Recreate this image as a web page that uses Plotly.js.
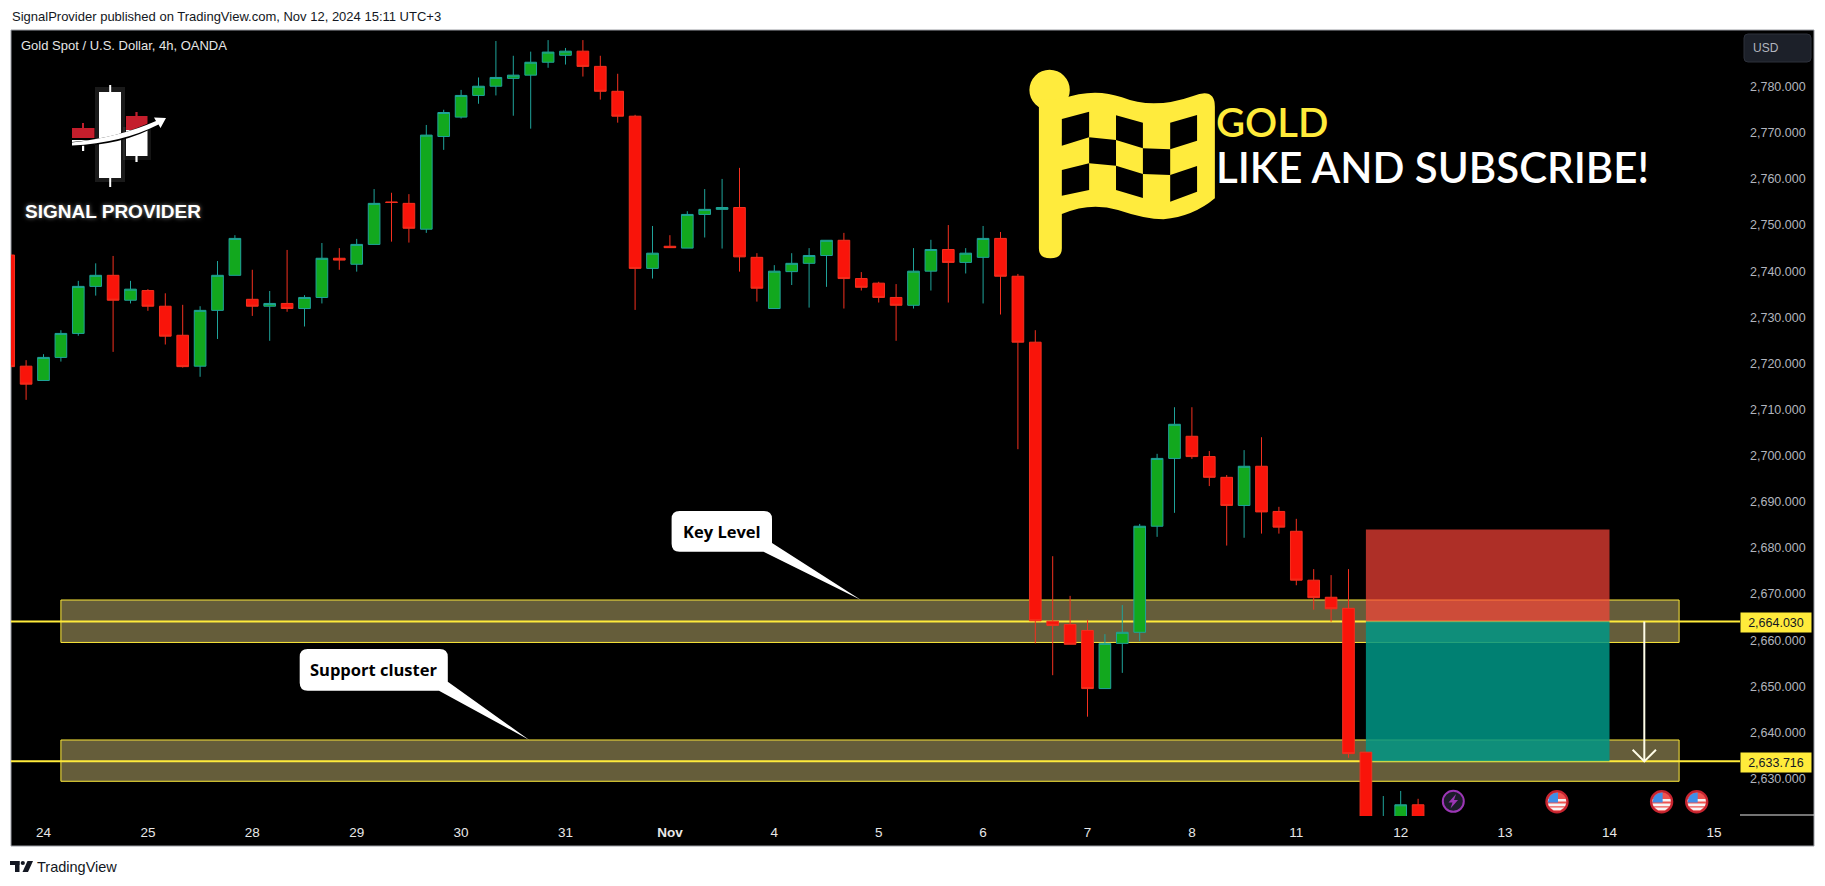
<!DOCTYPE html>
<html>
<head>
<meta charset="utf-8">
<script src="https://cdn.plot.ly/plotly-3.0.1.min.js"></script>
<style>html,body{margin:0;padding:0;background:#fff}#chart{width:1825px;height:886px}</style>
</head>
<body>
<div id="chart"></div>
<script>
// ---- Data (4h bars, first value is the bar cut by the left edge) ----
const opens = [2743.5,2719.4,2716.3,2721.3,2726.5,2736.7,2739.1,2733.7,2735.8,2732.4,2726.1,2719.4,2731.5,2739.1,2733.9,2732.4,2733.0,2731.9,2734.3,2742.8,2741.5,2745.8,2755.0,2754.7,2749.1,2769.2,2773.4,2778.1,2780.1,2781.8,2782.5,2785.3,2786.8,2787.7,2784.4,2779.0,2773.6,2740.6,2745.4,2745.0,2752.3,2753.4,2753.8,2743.0,2731.9,2739.9,2741.7,2743.4,2746.7,2738.4,2737.4,2734.3,2732.6,2740.0,2744.7,2741.9,2743.0,2747.1,2738.9,2724.6,2664.1,2663.4,2662.1,2649.5,2659.3,2661.7,2684.7,2699.4,2704.2,2699.8,2695.3,2689.2,2697.7,2687.9,2683.6,2673.0,2669.3,2666.9,2635.7,2614.0,2620.0,2624.3];
const highs = [2743.5,2720.7,2722.0,2727.2,2737.9,2741.7,2743.3,2737.9,2736.1,2735.2,2732.7,2732.4,2742.2,2747.8,2740.3,2735.7,2744.6,2734.8,2746.1,2745.0,2747.0,2757.8,2757.0,2756.7,2771.7,2775.0,2779.3,2782.0,2789.9,2786.7,2787.6,2790.1,2788.4,2790.1,2786.7,2782.8,2773.9,2749.8,2747.8,2753.0,2757.8,2760.0,2762.4,2743.9,2741.3,2743.9,2745.0,2746.7,2748.3,2739.8,2737.7,2737.2,2745.0,2746.8,2750.0,2745.0,2749.8,2748.5,2739.4,2727.2,2678.2,2669.6,2664.4,2661.3,2667.6,2685.2,2700.4,2710.5,2710.5,2701.0,2695.8,2701.2,2704.0,2688.9,2686.3,2675.4,2674.1,2675.4,2635.7,2626.2,2627.3,2625.6];
const lows = [2719.3,2712.1,2716.3,2720.4,2726.0,2734.7,2722.5,2733.0,2731.4,2724.1,2719.1,2717.1,2725.3,2739.1,2730.3,2724.9,2731.2,2728.0,2733.0,2740.3,2739.9,2745.8,2746.4,2746.2,2748.3,2766.3,2773.1,2776.3,2778.1,2773.7,2770.9,2784.1,2784.8,2782.2,2777.2,2772.2,2731.6,2738.4,2745.1,2745.0,2747.3,2744.9,2739.9,2733.4,2731.9,2737.0,2732.1,2736.6,2731.9,2735.8,2733.2,2724.9,2731.9,2735.8,2733.2,2739.5,2733.0,2730.6,2701.4,2659.3,2652.4,2659.1,2643.4,2649.5,2652.9,2659.8,2682.4,2687.6,2699.3,2693.4,2680.5,2682.2,2683.1,2683.1,2671.9,2666.6,2664.0,2634.5,2608.0,2612.0,2618.0,2618.0];
const closes = [2719.3,2715.5,2721.3,2726.5,2736.7,2739.1,2733.7,2736.1,2732.4,2725.9,2719.3,2731.5,2739.1,2747.1,2732.4,2733.0,2731.9,2734.3,2742.8,2742.4,2745.8,2754.7,2754.9,2749.3,2769.5,2774.4,2778.1,2780.1,2782.0,2782.5,2785.3,2787.5,2787.7,2784.4,2779.0,2773.6,2740.6,2743.9,2745.1,2752.3,2753.4,2753.8,2743.1,2736.3,2740.0,2741.7,2743.4,2746.7,2738.4,2736.5,2734.3,2732.6,2740.0,2744.7,2741.9,2743.9,2747.1,2738.9,2724.6,2664.2,2663.2,2659.1,2649.5,2659.3,2661.7,2684.7,2699.4,2706.8,2699.8,2695.3,2689.2,2697.7,2687.8,2684.5,2673.0,2669.2,2666.8,2635.4,2612.0,2620.5,2624.3,2620.0];
const firstBar = -2;
const bars = opens.map((_, i) => i + firstBar);

const dayTickBars = [0,6,12,18,24,30,36,42,48,54,60,66,72,78,84,90,96];
const dayTickText = ['24','25','28','29','30','31','<b>Nov</b>','4','5','6','7','8','11','12','13','14','15'];
const priceTicks = [2630,2640,2650,2660,2670,2680,2690,2700,2710,2720,2730,2740,2750,2760,2770,2780];
const barRange = [-1.868, 97.5];
const priceRange = [2621.87, 2792.29];

const entryPrice = 2664.03;
const targetPrice = 2633.716;
const keyZone = [2659.5, 2668.7];
const supportZone = [2629.4, 2638.35];
const zoneBars = [1, 94];
const positionBars = [76, 90];
const stopPrice = 2684.0;
const arrowBar = 92;

// ---- Layout helpers: page pixels to paper fractions, for the decorations only ----
const L = 11, T = 30, W = 1729, H = 786;
const fx = x => (x - L) / W;
const fy = y => (T + H - y) / H;
const P = (x, y) => fx(x) + ',' + fy(y);
const poly = pts => 'M' + pts.map(p => P(p[0], p[1])).join(' L') + ' Z';
const fillShape = (path, color) => ({type:'path', xref:'paper', yref:'paper', path, fillcolor:color, line:{width:0}, layer:'above'});
const circle = (cx, cy, r, fill, lineColor, lw) => ({type:'circle', xref:'paper', yref:'paper', x0:fx(cx-r), x1:fx(cx+r), y0:fy(cy+r), y1:fy(cy-r), fillcolor:fill, line:{color:lineColor||fill, width:lw||0}, layer:'above'});
const pxRect = (x0, y0, x1, y1, fill, layer) => ({type:'rect', xref:'paper', yref:'paper', x0:fx(x0), x1:fx(x1), y0:fy(y1), y1:fy(y0), fillcolor:fill, line:{width:0}, layer:layer||'above'});
const text = (x, y, t, size, color, family, anchor, extra, fontExtra) => Object.assign({xref:'paper', yref:'paper', x:fx(x), y:fy(y), text:t, showarrow:false, xanchor:anchor||'left', yanchor:'middle', font:Object.assign({size, color, family}, fontExtra||{}), borderpad:0}, extra||{});

const SANS = 'Liberation Sans';
const YEL = '#FFEB3B';

const shapes = [];
// panel
shapes.push({type:'rect', xref:'paper', yref:'paper', x0:0, x1:fx(1814), y0:fy(846), y1:1, fillcolor:'#000', line:{color:'#9a9ca3', width:1}, layer:'below'});
// zones
[keyZone, supportZone].forEach(z => shapes.push({type:'rect', xref:'x', yref:'y', x0:zoneBars[0], x1:zoneBars[1], y0:z[0], y1:z[1], fillcolor:'#655D3A', line:{color:YEL, width:1}, layer:'below'}));
// level lines
[entryPrice, targetPrice].forEach(v => shapes.push({type:'line', xref:'x', yref:'y', x0:barRange[0], x1:barRange[1], y0:v, y1:v, line:{color:YEL, width:2}, layer:'below'}));
// short position boxes
shapes.push({type:'rect', xref:'x', yref:'y', x0:positionBars[0], x1:positionBars[1], y0:entryPrice, y1:stopPrice, fillcolor:'rgba(252,68,56,0.69)', line:{width:0}, layer:'below'});
shapes.push({type:'rect', xref:'x', yref:'y', x0:positionBars[0], x1:positionBars[1], y0:targetPrice, y1:entryPrice, fillcolor:'rgba(0,150,134,0.85)', line:{width:0}, layer:'below'});
// arrow
shapes.push({type:'line', xref:'x', yref:'y', x0:arrowBar, x1:arrowBar, y0:entryPrice, y1:targetPrice, line:{color:'#FFFDE7', width:2}, layer:'above'});
shapes.push({type:'path', xref:'x', yref:'y', path:`M${arrowBar-0.67},${targetPrice+2.5} L${arrowBar},${targetPrice} L${arrowBar+0.67},${targetPrice+2.5}`, line:{color:'#FFFDE7', width:2}, layer:'above'});
// price-scale bottom rule
shapes.push({type:'line', xref:'paper', yref:'paper', x0:fx(1740), x1:fx(1814), y0:fy(815), y1:fy(815), line:{color:'#e8e8e8', width:1}, layer:'above'});
// USD button
shapes.push({type:'path', xref:'paper', yref:'paper', path:`M${P(1748,34)} L${P(1807,34)} Q${P(1811,34)} ${P(1811,38)} L${P(1811,58)} Q${P(1811,62)} ${P(1807,62)} L${P(1748,62)} Q${P(1744,62)} ${P(1744,58)} L${P(1744,38)} Q${P(1744,34)} ${P(1748,34)} Z`, fillcolor:'#1c2029', line:{color:'#2c303b', width:1}, layer:'above'});

// Logo
shapes.push(pxRect(95,87,125,182,'rgba(255,255,255,0.10)'));
shapes.push(pxRect(123,127,151,160,'rgba(255,255,255,0.08)'));
shapes.push(pxRect(109.2,85,111.2,187,'#fff'));
shapes.push(pxRect(99,92,121,178,'#fff'));
shapes.push(pxRect(82,123,84,128,'#C0202E'));
shapes.push(pxRect(72,128,94.5,138,'#C41E2C'));
shapes.push(pxRect(82,144,84.2,151,'#fff'));
shapes.push(pxRect(72,140,94.5,145,'#fff'));
shapes.push(pxRect(135.4,130,137.6,162,'#fff'));
shapes.push(pxRect(126,130,147.5,156,'#fff'));
shapes.push(pxRect(135.4,112,137.6,117,'#C0202E'));
shapes.push(pxRect(126,116,147.5,130,'#C41E2C'));
shapes.push(fillShape(`M${P(72,142)} Q${P(120,138)} ${P(155,120)} L${P(153,115.5)} L${P(167,117)} L${P(161,130)} L${P(158.5,125)} Q${P(122,146)} ${P(72,146)} Z`, '#000'));
shapes.push(fillShape(`M${P(72,142.5)} Q${P(120,137)} ${P(156,121)} L${P(154,117.5)} L${P(166,118)} L${P(160.5,128)} L${P(158.5,124.5)} Q${P(122,143)} ${P(72,145.5)} Z`, '#fff'));

// Checkered flag
const F = (zx, zy) => P(600 + zx / 2.529, zy / 3);
const flagY = '#FFEB3D';
shapes.push(circle(1049.6, 90, 20.2, flagY));
shapes.push(fillShape(`M${F(1110,300)} L${F(1168,296)} Q${F(1250,262)} ${F(1320,292)} Q${F(1400,330)} ${F(1500,288)} Q${F(1555,262)} ${F(1555,320)} L${F(1555,595)} Q${F(1500,650)} ${F(1425,658)} Q${F(1380,658)} ${F(1310,630)} Q${F(1240,605)} ${F(1168,642)} L${F(1168,745)} Q${F(1168,775)} ${F(1139,775)} Q${F(1110,775)} ${F(1110,745)} Z`, flagY));
[
  [[1168,357],[1237,335],[1237,412],[1168,437]],
  [[1305,346],[1373,368],[1373,445],[1305,420]],
  [[1442,368],[1510,345],[1510,422],[1442,448]],
  [[1237,412],[1305,420],[1305,497],[1237,490]],
  [[1373,445],[1442,448],[1442,525],[1373,522]],
  [[1168,510],[1237,490],[1237,570],[1168,587]],
  [[1305,497],[1373,522],[1373,594],[1305,570]],
  [[1442,525],[1510,498],[1510,575],[1442,605]]
].forEach(q => shapes.push(fillShape('M' + q.map(p => F(p[0], p[1])).join(' L') + ' Z', '#000')));

// Callouts
function bubble(x0, y0, x1, y1, tail) {
  const r = 8;
  return `M${P(x0+r,y0)} L${P(x1-r,y0)} Q${P(x1,y0)} ${P(x1,y0+r)} L${P(tail[0][0],tail[0][1])} L${P(tail[1][0],tail[1][1])} L${P(tail[2][0],tail[2][1])} L${P(x0+r,y1)} Q${P(x0,y1)} ${P(x0,y1-r)} L${P(x0,y0+r)} Q${P(x0,y0)} ${P(x0+r,y0)} Z`;
}
shapes.push(fillShape(bubble(671.6,511,772,551.7,[[772,543],[861,600],[763.5,551.7]]), '#fff'));
shapes.push(fillShape(bubble(299.7,649,447.8,690.7,[[447.8,681.7],[529.3,740],[439,690.7]]), '#fff'));

// Event icons
function usFlag(cx, cy) {
  shapes.push(circle(cx, cy, 10.6, '#ef5350', '#c6242f', 2.2));
  const r = 9.2;
  [[-1.5],[3.2],[7.2]].forEach(a => {
    const y = a[0], h = 1.3;
    const w1 = Math.sqrt(Math.max(r*r - (y-h)*(y-h), 0)), w2 = Math.sqrt(Math.max(r*r - (y+h)*(y+h), 0));
    shapes.push(fillShape(poly([[cx-w1,cy+y-h],[cx+w1,cy+y-h],[cx+w2,cy+y+h],[cx-w2,cy+y+h]]), '#f5f5f5'));
  });
  shapes.push(fillShape(`M${P(cx+1,cy-9.1)} L${P(cx+1,cy+0.8)} L${P(cx-9.1,cy+0.8)} Q${P(cx-8.6,cy-8.6)} ${P(cx+1,cy-9.1)} Z`, '#3f8fe8'));
}
[1557, 1661.6, 1696.7].forEach(cx => usFlag(cx, 801.7));
shapes.push(circle(1453.3, 801.3, 10.5, '#1c1c2a', '#9c36b5', 2));
shapes.push(fillShape(poly([[1456,794],[1448.5,802.5],[1452.5,802.5],[1450.5,808.5],[1458,800],[1454,800]]), '#9c36b5'));

// TradingView mark
const tvc = '#131722';
shapes.push(pxRect(10,861,19.5,865,tvc));
shapes.push(pxRect(15,861,19.5,872,tvc));
shapes.push(circle(22.8,863,2.1,tvc));
shapes.push(fillShape(poly([[27.5,861],[33,861],[28,872],[22.5,872]]), tvc));

const annotations = [
  text(11, 16, 'SignalProvider published on TradingView.com, Nov 12, 2024 15:11 UTC+3', 13, '#131722', SANS),
  text(20, 46, 'Gold Spot / U.S. Dollar, 4h, OANDA', 13, '#e6e6e6', SANS),
  text(113, 211, '<b>SIGNAL PROVIDER</b>', 19, '#fff', SANS, 'center', {}, {shadow:'0 0 4px rgba(255,255,255,0.5)'}),
  text(1215, 122, 'GOLD', 40, YEL, 'Lato', 'left', {height:42}, {weight:600}),
  text(1215, 167.5, 'LIKE AND SUBSCRIBE!', 42, '#fff', 'Lato', 'left', {height:42}, {weight:600}),
  text(722, 531, '<b>Key Level</b>', 16.5, '#000', 'Open Sans', 'center'),
  text(373.5, 669, '<b>Support cluster</b>', 16.5, '#000', 'Open Sans', 'center'),
  text(1765.5, 48, 'USD', 12, '#b2b5be', SANS, 'center'),
  text(1775.7, 622, '2,664.030', 12.5, '#131722', SANS, 'center', {bgcolor:YEL, width:70, height:19}),
  text(1775.7, 762, '2,633.716', 12.5, '#131722', SANS, 'center', {bgcolor:YEL, width:70, height:19}),
  text(35.5, 867, 'TradingView', 14.5, '#131722', SANS)
];

const trace = {
  type:'candlestick', x:bars, open:opens, high:highs, low:lows, close:closes,
  whiskerwidth:0, hoverinfo:'skip', showlegend:false,
  increasing:{line:{color:'#1fa39a', width:1}, fillcolor:'#12A81E'},
  decreasing:{line:{color:'#F4301F', width:1}, fillcolor:'#F9140A'}
};

const layout = {
  width:1825, height:886, autosize:false,
  margin:{l:L, t:T, r:1825-L-W, b:886-T-H, pad:0},
  paper_bgcolor:'#fff', plot_bgcolor:'#000',
  showlegend:false, hovermode:false, dragmode:false, boxgap:0.33, boxgroupgap:0,
  xaxis:{type:'linear', range:barRange, rangeslider:{visible:false}, showgrid:false, zeroline:false, showline:false,
    tickmode:'array', tickvals:dayTickBars, ticktext:dayTickText, ticks:'', ticklabelstandoff:6, tickangle:0,
    tickfont:{family:SANS, size:13.5, color:'#e8e8e8'}},
  yaxis:{type:'linear', side:'right', range:priceRange, showgrid:false, zeroline:false, showline:false,
    tickmode:'array', tickvals:priceTicks, tickformat:',.3f', ticks:'', ticklabelstandoff:9,
    tickfont:{family:SANS, size:12.5, color:'#b2b5be'}},
  shapes, annotations
};
Plotly.newPlot('chart', [trace], layout, {displayModeBar:false, staticPlot:true});
</script>
</body>
</html>
